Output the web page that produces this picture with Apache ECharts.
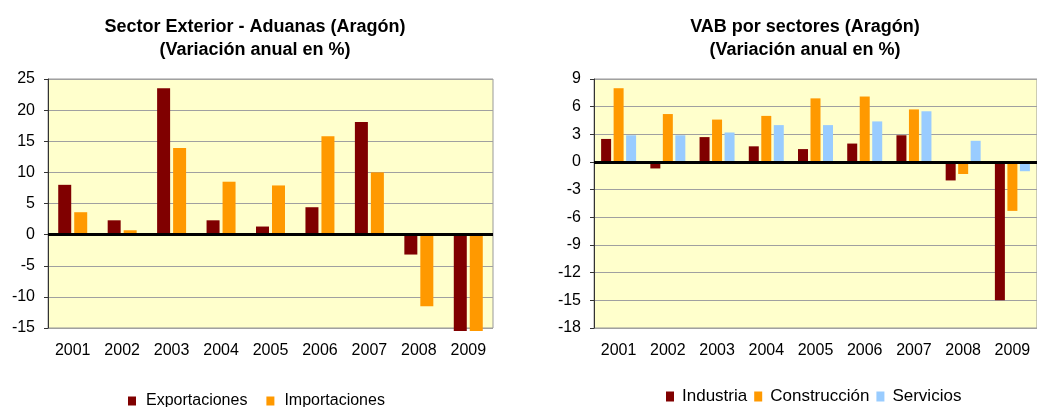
<!DOCTYPE html>
<html>
<head>
<meta charset="utf-8">
<script src="https://cdn.jsdelivr.net/npm/echarts@6/dist/echarts.min.js"></script>
<style>
  html, body { margin: 0; padding: 0; background: #fff; }
  #chart { width: 1037px; height: 407px; }
</style>
</head>
<body>
<div id="chart"></div>
<script>
// años (común a los dos gráficos)
const years = ['2001', '2002', '2003', '2004', '2005', '2006', '2007', '2008', '2009']

// Sector Exterior - Aduanas
const exportaciones = [8.0, 2.3, 23.5, 2.3, 1.3, 4.4, 18.1, -3.2, -15.5]
const importaciones = [3.6, 0.7, 13.9, 8.5, 7.9, 15.8, 10.0, -11.5, -15.5]

// VAB por sectores
const industria = [2.5, -0.7, 2.7, 1.7, 1.4, 2.0, 2.9, -2.0, -15.0]
const construccion = [8.0, 5.2, 4.6, 5.0, 6.9, 7.1, 5.7, -1.3, -5.3]
const servicios = [2.9, 2.9, 3.2, 4.0, 4.0, 4.4, 5.5, 2.3, -1.0]

const FONT = '"Liberation Sans", Arial, sans-serif'
const COLORS = { rojo: '#800000', naranja: '#FF9900', azul: '#99CCFF' }

const chart = echarts.init(document.getElementById('chart'))

const zeroLine = {
  silent: true,
  symbol: 'none',
  label: { show: false },
  lineStyle: { color: '#000', width: 3, type: 'solid' },
  data: [{ yAxis: 0 }]
}

const yAxisBase = (gridIndex, min, max, interval) => ({
  type: 'value',
  gridIndex,
  min,
  max,
  interval,
  axisLine: { show: true, lineStyle: { color: '#333', width: 1 } },
  axisTick: { show: true, length: 4, lineStyle: { color: '#333' } },
  axisLabel: { color: '#000', fontSize: 16, fontFamily: FONT, margin: 13 },
  splitLine: { show: true, lineStyle: { color: '#A0A0A0', width: 1 } }
})

const xAxisBase = (gridIndex) => ({
  type: 'category',
  gridIndex,
  data: years,
  axisLine: { show: false, onZero: false },
  axisTick: { show: false },
  axisLabel: { color: '#000', fontSize: 16, fontFamily: FONT, margin: 15 },
  splitLine: { show: false }
})

const titleStyle = { fontSize: 18, fontWeight: 'bold', color: '#000', fontFamily: FONT, lineHeight: 23 }

const option = {
  animation: false,
  backgroundColor: '#fff',
  title: [
    {
      text: 'Sector Exterior - Aduanas (Aragón)\n(Variación anual en %)',
      left: 250,
      top: 11,
      textAlign: 'center',
      textStyle: titleStyle
    },
    {
      text: 'VAB por sectores (Aragón)\n(Variación anual en %)',
      left: 800,
      top: 11,
      textAlign: 'center',
      textStyle: titleStyle
    }
  ],
  legend: [
    {
      data: ['Exportaciones', 'Importaciones'],
      left: 128,
      top: 393,
      padding: 0,
      itemWidth: 8,
      itemHeight: 9,
      itemGap: 19,
      icon: 'rect',
      textStyle: { fontSize: 16, color: '#000', fontFamily: FONT, padding: [0, 0, 0, 5] }
    },
    {
      data: ['Industria', 'Construcción', 'Servicios'],
      left: 666,
      top: 388,
      padding: 0,
      itemWidth: 8,
      itemHeight: 10,
      itemGap: 7,
      icon: 'rect',
      textStyle: { fontSize: 17, color: '#000', fontFamily: FONT, padding: [0, 0, 0, 3] }
    }
  ],
  grid: [
    { left: 48, top: 79, width: 445, height: 249, show: true, backgroundColor: '#FFFFCC', borderColor: '#999', borderWidth: 1 },
    { left: 594, top: 79, width: 446, height: 249, show: true, backgroundColor: '#FFFFCC', borderColor: '#999', borderWidth: 1 }
  ],
  xAxis: [xAxisBase(0), xAxisBase(1)],
  yAxis: [yAxisBase(0, -15, 25, 5), yAxisBase(1, -18, 9, 3)],
  series: [
    {
      name: 'Exportaciones', type: 'bar', xAxisIndex: 0, yAxisIndex: 0,
      data: exportaciones, barWidth: 13, barGap: '23%', clip: false,
      itemStyle: { color: COLORS.rojo }, markLine: zeroLine
    },
    {
      name: 'Importaciones', type: 'bar', xAxisIndex: 0, yAxisIndex: 0,
      data: importaciones, barWidth: 13, barGap: '23%', clip: false,
      itemStyle: { color: COLORS.naranja }
    },
    {
      name: 'Industria', type: 'bar', xAxisIndex: 1, yAxisIndex: 1,
      data: industria, barWidth: 10, barGap: '25%',
      itemStyle: { color: COLORS.rojo }, markLine: zeroLine
    },
    {
      name: 'Construcción', type: 'bar', xAxisIndex: 1, yAxisIndex: 1,
      data: construccion, barWidth: 10, barGap: '25%',
      itemStyle: { color: COLORS.naranja }
    },
    {
      name: 'Servicios', type: 'bar', xAxisIndex: 1, yAxisIndex: 1,
      data: servicios, barWidth: 10, barGap: '25%',
      itemStyle: { color: COLORS.azul }
    }
  ]
}

chart.setOption(option)
</script>
</body>
</html>
